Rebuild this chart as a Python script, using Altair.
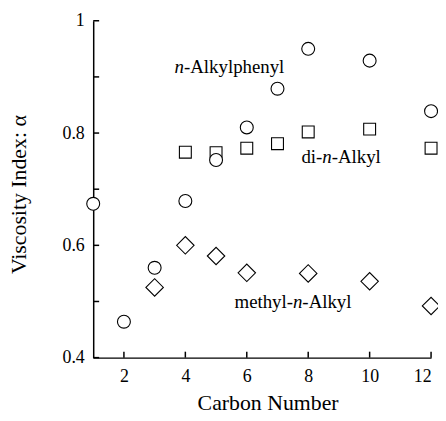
import altair as alt
import pandas as pd

# n-Alkylphenyl (circles)
phenyl_x = [1, 2, 3, 4, 5, 6, 7, 8, 10, 12]
phenyl_y = [0.674, 0.464, 0.560, 0.679, 0.752, 0.810, 0.879, 0.950, 0.929, 0.839]
# di-n-Alkyl (squares)
dialkyl_x = [4, 5, 6, 7, 8, 10, 12]
dialkyl_y = [0.766, 0.765, 0.773, 0.781, 0.802, 0.807, 0.773]
# methyl-n-Alkyl (diamonds)
methyl_x = [3, 4, 5, 6, 8, 10, 12]
methyl_y = [0.525, 0.600, 0.581, 0.551, 0.550, 0.536, 0.492]

x_ticks = [2, 4, 6, 8, 10, 12]
y_ticks = [0.4, 0.5, 0.6, 0.7, 0.8, 0.9, 1.0]
y_labels = [0.4, 0.6, 0.8, 1.0]

FONT = "Liberation Serif"

xs = alt.Scale(domain=[1, 12], nice=False, zero=False)
ys = alt.Scale(domain=[0.4, 1.0], nice=False, zero=False)

x_axis = alt.Axis(values=x_ticks, ticks=False, tickSize=0, grid=False,
                  domainColor="black", domainWidth=1.5,
                  labelFont=FONT, labelFontSize=18, labelColor="black", labelPadding=10,
                  title="Carbon Number", titleFont=FONT, titleFontSize=22,
                  titleFontWeight="normal", titleColor="black",
                  titleX=176, titleY=52, titleAlign="center", titleBaseline="alphabetic")
y_axis = alt.Axis(values=y_labels, format="~g", ticks=False, tickSize=0, grid=False,
                  domainColor="black", domainWidth=1.5,
                  labelFont=FONT, labelFontSize=18, labelColor="black", labelPadding=9,
                  title="Viscosity Index: α", titleFont=FONT, titleFontSize=22,
                  titleFontWeight="normal", titleColor="black",
                  titleX=-68, titleY=175, titleAngle=270, titleAlign="center",
                  titleBaseline="alphabetic")

df_p = pd.DataFrame({"x": phenyl_x, "y": phenyl_y})
df_d = pd.DataFrame({"x": dialkyl_x, "y": dialkyl_y})
df_m = pd.DataFrame({"x": methyl_x, "y": methyl_y})
df_xt = pd.DataFrame({"x": x_ticks})
df_yt = pd.DataFrame({"y": y_ticks})

axes = alt.Chart(df_p).mark_point(opacity=0).encode(
    x=alt.X("x:Q", scale=xs, axis=x_axis),
    y=alt.Y("y:Q", scale=ys, axis=y_axis),
)

xt = alt.Chart(df_xt).mark_rule(color="black", strokeWidth=1.5).encode(
    x=alt.X("x:Q", scale=xs), y=alt.value(340), y2=alt.value(334))
yt = alt.Chart(df_yt).mark_rule(color="black", strokeWidth=1.5).encode(
    y=alt.Y("y:Q", scale=ys), x=alt.value(0), x2=alt.value(6))

def pts(df, shape, size):
    return alt.Chart(df).mark_point(shape=shape, size=size, filled=False, fill="white",
                                     fillOpacity=1, stroke="black", strokeWidth=1.1,
                                     opacity=1).encode(
        x=alt.X("x:Q", scale=xs), y=alt.Y("y:Q", scale=ys))

sq = pts(df_d, "square", 144)
di = pts(df_m, "diamond", 310)
ci = pts(df_p, "circle", 170)

# annotation label anchors (left edge, vertical middle)
ann_x = [3.65, 7.78, 5.6]
ann_y = [0.917, 0.7565, 0.499]

def label(xv, yv, parts):
    layers = []
    dx = 0
    for txt, italic, w in parts:
        layers.append(
            alt.Chart(pd.DataFrame({"x": [xv], "y": [yv], "t": [txt]})).mark_text(
                font=FONT, fontSize=19, fontStyle="italic" if italic else "normal",
                align="left", baseline="middle", dx=dx, color="black").encode(
                x=alt.X("x:Q", scale=xs), y=alt.Y("y:Q", scale=ys), text="t:N"))
        dx += w
    return layers

labels = []
labels += label(ann_x[0], ann_y[0], [("n", True, 9.5), ("-Alkylphenyl", False, 0)])
labels += label(ann_x[1], ann_y[1], [("di-", False, 21), ("n", True, 9.5), ("-Alkyl", False, 0)])
labels += label(ann_x[2], ann_y[2], [("methyl-", False, 59), ("n", True, 9.5), ("-Alkyl", False, 0)])

chart = alt.layer(axes, xt, yt, sq, di, ci, *labels).properties(
    width=341, height=340,
    autosize=alt.AutoSizeParams(type="none"),
    padding={"left": 86, "top": 11, "right": 7, "bottom": 54},
).configure_view(stroke=None)

chart.save("out.html", embed_options={"renderer": "svg", "actions": False})
